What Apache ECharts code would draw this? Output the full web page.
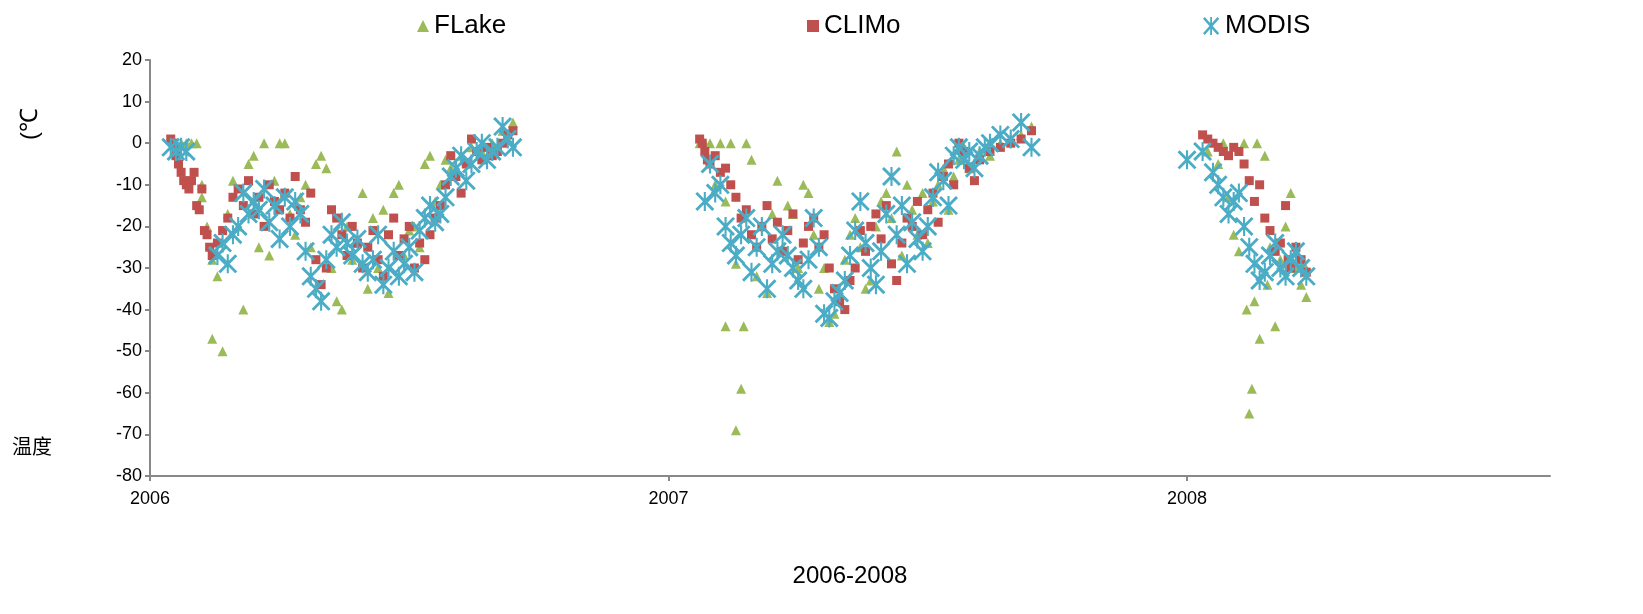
<!DOCTYPE html>
<html>
<head>
<meta charset="utf-8">
<script src="https://cdn.jsdelivr.net/npm/echarts@6/dist/echarts.min.js"></script>
<style>html,body{margin:0;background:#fff}#chart{width:1643px;height:614px}</style>
</head>
<body>
<div id="chart"></div>
<script>
var flake = [
  [2006.05,0],[2006.06,0],[2006.07,0],[2006.08,0],[2006.09,0],[2006.10,-10],[2006.10,-13],[2006.11,-20],[2006.12,-28],[2006.12,-47],[2006.13,-32],[2006.14,-50],[2006.15,-17],[2006.16,-9],[2006.17,-20],[2006.18,-40],[2006.19,-5],[2006.2,-3],[2006.21,-25],[2006.22,0],[2006.23,-27],[2006.24,-9],[2006.25,0],[2006.26,0],[2006.27,-17],[2006.28,-22],[2006.29,-13],[2006.3,-10],[2006.31,-25],[2006.32,-5],[2006.33,-3],[2006.34,-6],[2006.35,-30],[2006.36,-38],[2006.37,-40],[2006.38,-20],[2006.39,-28],[2006.4,-24],[2006.41,-12],[2006.42,-35],[2006.43,-18],[2006.44,-30],[2006.45,-16],[2006.46,-36],[2006.47,-12],[2006.48,-10],[2006.49,-27],[2006.5,-21],[2006.51,-20],[2006.52,-25],[2006.53,-5],[2006.54,-3],[2006.55,-14],[2006.56,-10],[2006.57,-4],[2006.58,-6],[2006.6,-3],[2006.62,-1],[2006.64,-2],[2006.66,0],[2006.68,3],[2006.7,5],
  [2007.06,0],[2007.07,0],[2007.08,0],[2007.09,-10],[2007.1,0],[2007.11,-44],[2007.11,-14],[2007.12,0],[2007.13,-69],[2007.13,-29],[2007.14,-59],[2007.145,-44],[2007.15,0],[2007.16,-4],[2007.17,-32],[2007.18,-20],[2007.19,-36],[2007.2,-17],[2007.21,-9],[2007.22,-25],[2007.23,-15],[2007.24,-17],[2007.25,-30],[2007.26,-10],[2007.27,-12],[2007.28,-22],[2007.29,-35],[2007.3,-30],[2007.31,-43],[2007.32,-41],[2007.33,-38],[2007.34,-28],[2007.35,-22],[2007.36,-18],[2007.37,-25],[2007.38,-35],[2007.39,-33],[2007.4,-20],[2007.41,-14],[2007.42,-12],[2007.43,-18],[2007.44,-2],[2007.45,-27],[2007.46,-10],[2007.47,-16],[2007.48,-22],[2007.49,-12],[2007.5,-24],[2007.51,-14],[2007.52,-10],[2007.53,-6],[2007.54,-16],[2007.55,-8],[2007.56,-4],[2007.57,-1],[2007.58,-6],[2007.6,-2],[2007.62,-3],[2007.64,0],[2007.66,1],[2007.68,2],[2007.7,4],
  [2008.04,-2],[2008.06,-5],[2008.07,0],[2008.08,-13],[2008.09,-22],[2008.1,-26],[2008.11,0],[2008.115,-40],[2008.12,-65],[2008.125,-59],[2008.13,-38],[2008.135,0],[2008.14,-47],[2008.15,-3],[2008.155,-34],[2008.16,-25],[2008.17,-44],[2008.18,-28],[2008.19,-20],[2008.2,-12],[2008.21,-30],[2008.22,-34],[2008.23,-37],[2008.225,-29]
];
var climo = [
  [2006.04,1],[2006.045,0],[2006.05,-3],[2006.055,-5],[2006.06,-7],[2006.065,-9],[2006.07,-10],[2006.075,-11],[2006.08,-9],[2006.085,-7],[2006.09,-15],[2006.095,-16],[2006.1,-11],[2006.105,-21],[2006.11,-22],[2006.115,-25],[2006.12,-27],[2006.13,-24],[2006.14,-21],[2006.15,-18],[2006.16,-13],[2006.17,-11],[2006.18,-15],[2006.19,-9],[2006.2,-17],[2006.21,-13],[2006.22,-20],[2006.23,-10],[2006.24,-14],[2006.25,-16],[2006.26,-12],[2006.27,-18],[2006.28,-8],[2006.29,-16],[2006.3,-19],[2006.31,-12],[2006.32,-28],[2006.33,-34],[2006.34,-30],[2006.35,-16],[2006.36,-18],[2006.37,-22],[2006.38,-27],[2006.39,-20],[2006.4,-24],[2006.41,-30],[2006.42,-25],[2006.43,-21],[2006.44,-28],[2006.45,-32],[2006.46,-22],[2006.47,-18],[2006.48,-27],[2006.49,-23],[2006.5,-20],[2006.51,-30],[2006.52,-24],[2006.53,-28],[2006.54,-22],[2006.55,-18],[2006.56,-15],[2006.57,-10],[2006.58,-3],[2006.59,-8],[2006.6,-12],[2006.61,-5],[2006.62,1],[2006.63,-2],[2006.64,-4],[2006.65,-1],[2006.66,-3],[2006.67,-2],[2006.68,0],[2006.69,2],[2006.7,3],
  [2007.06,1],[2007.065,0],[2007.07,-2],[2007.075,-4],[2007.08,-5],[2007.09,-3],[2007.1,-7],[2007.11,-6],[2007.12,-10],[2007.13,-13],[2007.14,-18],[2007.15,-16],[2007.16,-22],[2007.17,-25],[2007.18,-20],[2007.19,-15],[2007.2,-23],[2007.21,-19],[2007.22,-26],[2007.23,-21],[2007.24,-17],[2007.25,-28],[2007.26,-24],[2007.27,-20],[2007.28,-18],[2007.29,-25],[2007.3,-22],[2007.31,-30],[2007.32,-35],[2007.33,-38],[2007.34,-40],[2007.35,-33],[2007.36,-30],[2007.37,-21],[2007.38,-26],[2007.39,-20],[2007.4,-17],[2007.41,-23],[2007.42,-15],[2007.43,-29],[2007.44,-33],[2007.45,-24],[2007.46,-18],[2007.47,-20],[2007.48,-14],[2007.49,-22],[2007.5,-16],[2007.51,-12],[2007.52,-19],[2007.53,-8],[2007.54,-5],[2007.55,-10],[2007.56,0],[2007.57,-2],[2007.58,-6],[2007.59,-9],[2007.6,-4],[2007.62,-2],[2007.64,-1],[2007.66,0],[2007.68,1],[2007.7,3],
  [2008.03,2],[2008.04,1],[2008.05,0],[2008.06,-1],[2008.07,-2],[2008.08,-3],[2008.09,-1],[2008.1,-2],[2008.11,-5],[2008.12,-9],[2008.13,-14],[2008.14,-10],[2008.15,-18],[2008.16,-21],[2008.17,-26],[2008.18,-24],[2008.19,-15],[2008.195,-28],[2008.2,-30],[2008.21,-25],[2008.22,-28],[2008.23,-31]
];
var modis = [
  [2006.04,-1],[2006.05,-2],[2006.06,-1],[2006.07,-2],[2006.13,-27],[2006.14,-24],[2006.15,-29],[2006.16,-22],[2006.17,-20],[2006.18,-12],[2006.19,-17],[2006.2,-14],[2006.21,-16],[2006.22,-11],[2006.23,-19],[2006.24,-15],[2006.25,-23],[2006.26,-13],[2006.27,-20],[2006.28,-14],[2006.29,-17],[2006.3,-26],[2006.31,-32],[2006.32,-35],[2006.33,-38],[2006.34,-28],[2006.35,-22],[2006.36,-25],[2006.37,-19],[2006.38,-24],[2006.39,-27],[2006.4,-23],[2006.41,-29],[2006.42,-31],[2006.43,-28],[2006.44,-22],[2006.45,-34],[2006.46,-30],[2006.47,-26],[2006.48,-32],[2006.49,-29],[2006.5,-25],[2006.51,-31],[2006.52,-21],[2006.53,-18],[2006.54,-15],[2006.55,-19],[2006.56,-17],[2006.57,-13],[2006.58,-8],[2006.59,-6],[2006.6,-3],[2006.61,-9],[2006.62,-5],[2006.63,-2],[2006.64,0],[2006.65,-4],[2006.66,-2],[2006.67,-1],[2006.68,4],[2006.69,1],[2006.7,-1],
  [2007.07,-14],[2007.08,-5],[2007.09,-12],[2007.1,-10],[2007.11,-20],[2007.12,-24],[2007.13,-27],[2007.14,-22],[2007.15,-18],[2007.16,-31],[2007.17,-25],[2007.18,-20],[2007.19,-35],[2007.2,-29],[2007.21,-26],[2007.22,-22],[2007.23,-27],[2007.24,-30],[2007.25,-33],[2007.26,-35],[2007.27,-28],[2007.28,-18],[2007.29,-25],[2007.3,-41],[2007.31,-42],[2007.32,-38],[2007.33,-36],[2007.34,-33],[2007.35,-27],[2007.36,-21],[2007.37,-14],[2007.38,-24],[2007.39,-30],[2007.4,-34],[2007.41,-26],[2007.42,-17],[2007.43,-8],[2007.44,-22],[2007.45,-15],[2007.46,-29],[2007.47,-19],[2007.48,-23],[2007.49,-26],[2007.5,-20],[2007.51,-13],[2007.52,-7],[2007.53,-9],[2007.54,-15],[2007.55,-3],[2007.56,-1],[2007.57,-4],[2007.58,-2],[2007.59,-6],[2007.6,-3],[2007.61,-1],[2007.62,0],[2007.64,2],[2007.66,1],[2007.68,5],[2007.7,-1],
  [2008.0,-4],[2008.03,-2],[2008.05,-7],[2008.06,-10],[2008.07,-13],[2008.08,-17],[2008.09,-14],[2008.1,-12],[2008.11,-20],[2008.12,-25],[2008.13,-29],[2008.14,-33],[2008.15,-31],[2008.16,-27],[2008.17,-24],[2008.18,-30],[2008.19,-32],[2008.2,-28],[2008.21,-26],[2008.22,-30],[2008.23,-32]
];

var star = "path://M9,0 H11 V20 H9 Z M1,2 L3,0 L19,18 L17,20 Z M17,0 L19,2 L3,20 L1,18 Z";
var legendText = { fontSize: 26, color: "#000", fontFamily: "Liberation Sans" };

var myChart = echarts.init(document.getElementById("chart"));
var option = {
  animation: false,
  grid: { left: 150, right: 93, top: 60, bottom: 138 },
  legend: [
    { data: [{ name: "FLake", icon: "triangle" }], left: 412, top: 8, itemWidth: 12, itemHeight: 12, textStyle: legendText },
    { data: [{ name: "CLIMo", icon: "rect" }], left: 802, top: 8, itemWidth: 12, itemHeight: 12, textStyle: legendText },
    { data: [{ name: "MODIS", icon: star }], left: 1198, top: 8, itemWidth: 18, itemHeight: 18, textStyle: legendText }
  ],
  graphic: [
    { type: "text", left: 18, top: 108, rotation: Math.PI / 2, style: { text: "(℃", font: "24px 'Liberation Sans'", fill: "#000" } },
    { type: "text", left: 12, top: 436, style: { text: "温度", font: "20px 'Noto Sans CJK SC'", fill: "#000" } }
  ],
  xAxis: {
    type: "value", min: 2006, max: 2008.7, interval: 1,
    name: "2006-2008", nameLocation: "middle", nameGap: 88,
    nameTextStyle: { fontSize: 24, color: "#000", fontFamily: "Liberation Sans" },
    axisLine: { onZero: false, lineStyle: { color: "#888", width: 2 } },
    axisTick: { show: true, lineStyle: { color: "#888", width: 2 } },
    axisLabel: { fontSize: 18, color: "#000", margin: 14, fontFamily: "Liberation Sans", showMaxLabel: false, formatter: function (v) { return String(v); } },
    splitLine: { show: false }
  },
  yAxis: {
    type: "value", min: -80, max: 20, interval: 10,
    axisLine: { show: true, lineStyle: { color: "#888", width: 2 } },
    axisTick: { show: true, lineStyle: { color: "#888", width: 2 } },
    axisLabel: { fontSize: 18, color: "#000", fontFamily: "Liberation Sans" },
    splitLine: { show: false }
  },
  series: [
    { name: "FLake", type: "scatter", symbol: "triangle", symbolSize: 10, data: flake, itemStyle: { color: "#9BBB59", opacity: 1 } },
    { name: "CLIMo", type: "scatter", symbol: "rect", symbolSize: 9, data: climo, itemStyle: { color: "#C0504D", opacity: 1 } },
    { name: "MODIS", type: "scatter", symbol: star, symbolSize: 19, data: modis, itemStyle: { color: "#4BACC6", opacity: 1 } }
  ]
};
myChart.setOption(option);
</script>
</body>
</html>
